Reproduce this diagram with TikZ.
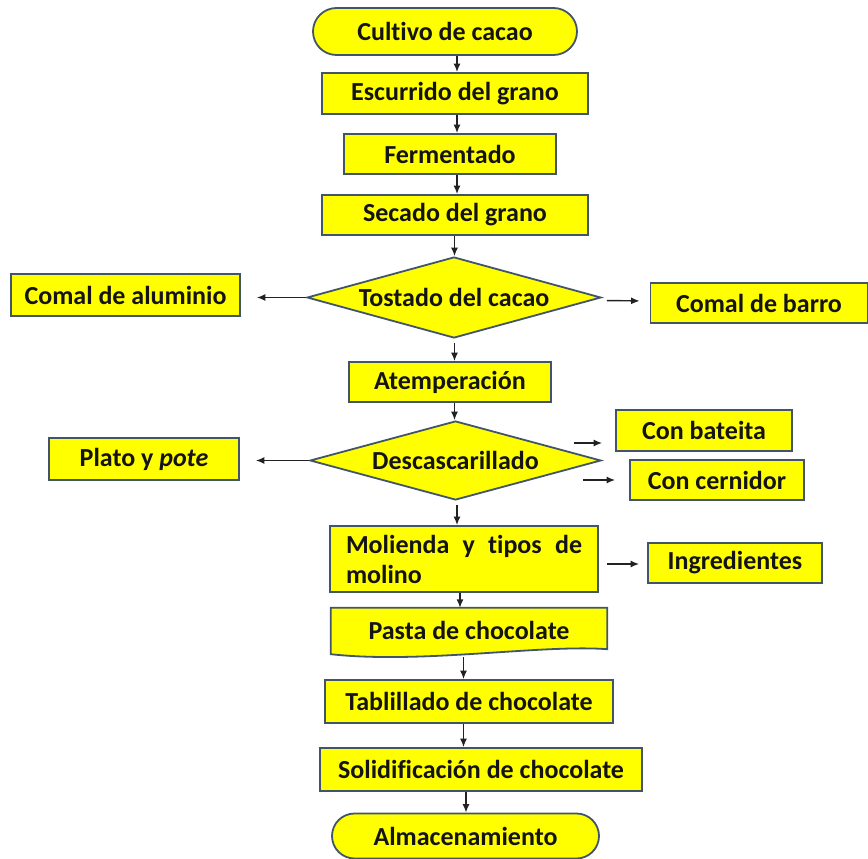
\documentclass[tikz,border=0pt]{standalone}
\usepackage{fontspec}
\setmainfont{Carlito}[RawFeature=-liga]
\usetikzlibrary{shapes.geometric,shapes.misc,arrows.meta,backgrounds}
\definecolor{yel}{HTML}{FFFF00}
\definecolor{bord}{HTML}{41546A}
\definecolor{arrc}{HTML}{222222}
\definecolor{txtc}{HTML}{141414}
\newcommand\boxfont{\fontsize{26}{30}\selectfont\bfseries}
\tikzset{
  box/.style={draw=bord, fill=yel, line width=1.8pt, inner sep=0pt, font=\boxfont, text=txtc},
  term/.style={box, rounded rectangle},
  dia/.style={box, diamond},
  lbl/.style={font=\boxfont, text=txtc, inner sep=0pt},
  bare/.style={inner sep=0pt, font=\boxfont, text=txtc},
  shapeline/.style={draw=bord, fill=yel, line width=1.8pt},
  arr/.style={-{Latex[length=8.5pt,width=7pt]}, line width=1.4pt, draw=arrc},
}
\begin{document}
\begin{tikzpicture}[x=1pt,y=-1pt]
\useasboundingbox (0,0) rectangle (868,859);
% spines for vertical connectors
\coordinate (sA) at (457,0);
\coordinate (sB) at (454.5,0);
\coordinate (sC) at (460,0);
\coordinate (sD) at (463.5,0);
\coordinate (sE) at (466,0);
% main column
\node[term, minimum width=264pt, minimum height=47pt] (cult) at (445,31.5) {Cultivo de cacao};
\node[box, minimum width=266pt, minimum height=41pt] (esc) at (455,93.5) {Escurrido del grano};
\node[box, minimum width=212pt, minimum height=40pt] (ferm) at (450,154) {Fermentado};
\node[box, minimum width=266pt, minimum height=40pt] (sec) at (455,215) {Secado del grano};
\node[dia, minimum width=294pt, minimum height=81pt, label={[lbl]center:Tostado del cacao}] (tost) at (454,297.5) {};
\node[box, minimum width=229pt, minimum height=42pt] (alu) at (125.5,295) {Comal de aluminio};
\node[box, minimum width=217pt, minimum height=40pt] (barro) at (759,303) {Comal de barro};
\node[box, minimum width=202pt, minimum height=40pt] (atem) at (450,382) {Atemperación};
\node[dia, minimum width=291pt, minimum height=79pt, label={[lbl]center:Descascarillado}] (desc) at (455.5,460.5) {};
\node[box, minimum width=190pt, minimum height=42pt] (plato) at (144,459) {Plato y \textit{pote}};
\node[box, minimum width=176pt, minimum height=41pt] (bat) at (704,430.5) {Con bateita};
\node[box, minimum width=174pt, minimum height=40pt] (cern) at (717,480) {Con cernidor};
\node[box, minimum width=268pt, minimum height=66pt, text width=236pt, align=left] (mol) at (464,559) {Molienda\hfill y\hfill tipos\hfill de\\molino};
\node[box, minimum width=174pt, minimum height=40pt] (ingr) at (735,563) {Ingredientes};
\node[bare, minimum width=276pt, minimum height=44pt] (pasta) at (469,630) {Pasta de chocolate};
\begin{scope}[on background layer]
\draw[shapeline] (pasta.north west) -- (pasta.north east) -- ([shift={(0,-3)}]pasta.south east)
  .. controls ([shift={(-66,-8)}]pasta.south east) and ([shift={(-186,12)}]pasta.south east) .. ([shift={(0,2)}]pasta.south west) -- cycle;
\end{scope}
\node[box, minimum width=288pt, minimum height=43pt] (tabl) at (469,701.5) {Tablillado de chocolate\hspace{14pt}};
\node[box, minimum width=322pt, minimum height=43pt] (solid) at (481,769.5) {Solidificación de chocolate};
\node[term, minimum width=267pt, minimum height=45pt] (alm) at (465.5,836) {Almacenamiento};
% vertical connectors
\draw[arr] (cult.south -| sA) -- (esc.north -| sA);
\draw[arr] (esc.south -| sA) -- (ferm.north -| sA);
\draw[arr] (ferm.south -| sA) -- (sec.north -| sA);
\draw[arr] (sec.south -| sB) -- (tost.north -| sB);
\draw[arr, shorten <=4pt] (tost.south -| sB) -- (atem.north -| sB);
\draw[arr] (atem.south -| sB) -- (desc.north -| sB);
\draw[arr, shorten <=4pt] (desc.south -| sA) -- (mol.north -| sA);
\draw[arr] (mol.south -| sC) -- (pasta.north -| sC);
\draw[arr, shorten <=5pt] (pasta.south -| sD) -- (tabl.north -| sD);
\draw[arr] (tabl.south -| sD) -- (solid.north -| sD);
\draw[arr] (solid.south -| sE) -- (alm.north -| sE);
% side connectors
\draw[arr, shorten >=16pt] (tost.west) -- (alu.east |- tost.west);
\draw[arr, shorten <=5pt, shorten >=10pt] ([shift={(0,3)}]tost.east) -- ([shift={(0,-2)}]barro.west);
\draw[arr, shorten >=16pt] (desc.west) -- (plato.east |- desc.west);
\draw[arr] ([shift={(-28,-17.5)}]desc.east) -- ([shift={(-13,12.5)}]bat.west);
\draw[arr] ([shift={(-19,19.5)}]desc.east) -- ([xshift=-14pt]cern.west);
\draw[arr] ([shift={(8,5)}]mol.east) -- ([shift={(-8,1)}]ingr.west);
\end{tikzpicture}
\end{document}
